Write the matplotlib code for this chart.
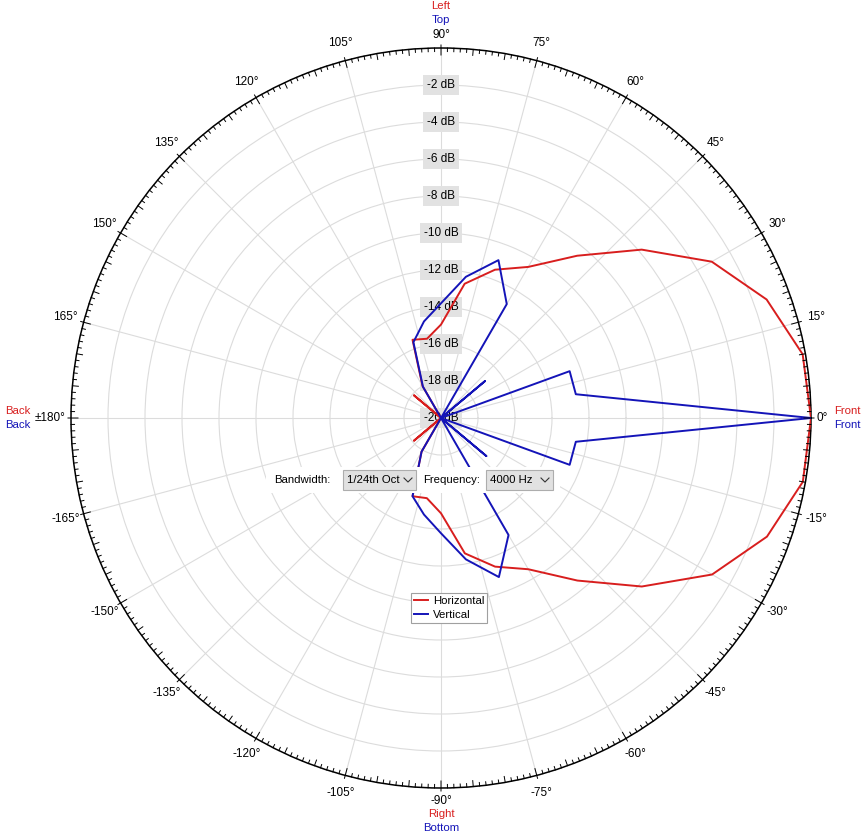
import numpy as np
import matplotlib
matplotlib.use("Agg")
import matplotlib.pyplot as plt
from matplotlib.patches import Rectangle
from matplotlib.lines import Line2D

plt.rcParams['font.family'] = ['Liberation Sans', 'DejaVu Sans']

W, H = 863, 838

# измерения каждые 10 градусов (0 = фронт, против часовой)
angles = list(range(0, 360, 10))
horizontal = [0.0, -0.15, -1.27, -3.1, -5.84, -8.55, -10.57, -11.47, -12.63, -14.95,
              -15.65, -15.5, -18.0, -20.0, -18.1, -20.0, -20.0, -20.0, -20.0, -20.0,
              -20.0, -20.0, -18.1, -20.0, -17.9, -15.5, -15.6, -14.85, -12.57, -11.45,
              -10.56, -8.53, -5.83, -3.08, -1.25, -0.14]
vertical = [0.0, -12.6, -12.6, -20.0, -16.9, -20.0, -12.89, -10.92, -12.25, -13.8,
            -14.7, -15.64, -18.05, -20.0, -20.0, -20.0, -20.0, -20.0, -20.0, -20.0,
            -20.0, -20.0, -20.0, -20.0, -17.9, -15.5, -14.7, -13.77, -12.24, -10.85,
            -12.7, -20.0, -16.8, -20.0, -12.6, -12.6]

db_rings = [-2, -4, -6, -8, -10, -12, -14, -16, -18, -20]
theta_labels = {0: '0°', 15: '15°', 30: '30°', 45: '45°', 60: '60°', 75: '75°', 90: '90°',
                105: '105°', 120: '120°', 135: '135°', 150: '150°', 165: '165°', 180: '±180°',
                195: '-165°', 210: '-150°', 225: '-135°', 240: '-120°', 255: '-105°',
                270: '-90°', 285: '-75°', 300: '-60°', 315: '-45°', 330: '-30°', 345: '-15°'}

RED = '#d81e1e'
BLUE = '#1414b8'
fs = 8.2


def px(x, y):
    return x / W, 1 - y / H


fig = plt.figure(figsize=(W / 100, H / 100), dpi=100)
cx, cy, R = 441, 418, 370
ax = fig.add_axes([(cx - R) / W, (H - cy - R) / H, 2 * R / W, 2 * R / H], projection='polar')
ax.set_ylim(-20, 0)
ax.set_axisbelow(True)
ax.set_xticks(np.deg2rad(np.arange(0, 360, 15)))
ax.set_xticklabels([])
ax.set_yticks(db_rings[:-1])
ax.set_yticklabels([])
ax.tick_params(axis='x', length=0)
ax.grid(color='#dcdcdc', lw=0.8)
ax.spines['polar'].set_color('black')
ax.spines['polar'].set_linewidth(1.1)

db_per_px = 20 / R

# шкала делений по окружности
tt, rr = [], []
for d in range(360):
    if d % 15 == 0:
        r0, r1 = -7 * db_per_px, 3 * db_per_px
    elif d % 5 == 0:
        r0, r1 = -6 * db_per_px, 0
    else:
        r0, r1 = -3.5 * db_per_px, 0
    t = np.deg2rad(d)
    tt += [t, t, np.nan]
    rr += [r0, r1, np.nan]
ax.plot(tt, rr, color='black', lw=0.7, clip_on=False, zorder=4)

# подписи углов
for d, lab in theta_labels.items():
    if d == 0:
        off = 11
    elif d in (90, 270):
        off = 13
    elif d == 180:
        off = 21
    else:
        off = 18.5
    ax.text(np.deg2rad(d), off * db_per_px, lab, ha='center', va='center', fontsize=fs + 0.3,
            clip_on=False)

# подписи дБ
for r in db_rings:
    ax.text(np.pi / 2, r, f'{r} dB', ha='center', va='center', fontsize=fs + 0.3, zorder=2,
            bbox=dict(boxstyle='square,pad=0.3', fc='#e2e2e2', ec='none'))

th = np.deg2rad(angles + [angles[0]])
ax.plot(th, horizontal + [horizontal[0]], color=RED, lw=1.4, zorder=3, label='Horizontal')
ax.plot(th, vertical + [vertical[0]], color=BLUE, lw=1.4, zorder=3, label='Vertical')

# надписи сторон
fig.text(*px(441, 6), 'Left', color=RED, ha='center', va='center', fontsize=fs)
fig.text(*px(441, 20), 'Top', color=BLUE, ha='center', va='center', fontsize=fs)
fig.text(*px(441, 814), 'Right', color=RED, ha='center', va='center', fontsize=fs)
fig.text(*px(441, 828), 'Bottom', color=BLUE, ha='center', va='center', fontsize=fs)
fig.text(*px(5, 411), 'Back', color=RED, ha='left', va='center', fontsize=fs)
fig.text(*px(5, 425), 'Back', color=BLUE, ha='left', va='center', fontsize=fs)
fig.text(*px(834, 411), 'Front', color=RED, ha='left', va='center', fontsize=fs)
fig.text(*px(834, 425), 'Front', color=BLUE, ha='left', va='center', fontsize=fs)


# панель с выпадающими списками
def rect(x0, y0, x1, y1, **kw):
    fig.add_artist(Rectangle(px(x0, y1), (x1 - x0) / W, (y1 - y0) / H,
                             transform=fig.transFigure, **kw))


def chevron(x, y):
    xs = [x - 4, x, x + 4]
    ys = [y - 2, y + 2, y - 2]
    fig.add_artist(Line2D([v / W for v in xs], [1 - v / H for v in ys], color='#333333',
                          lw=0.8, transform=fig.transFigure, zorder=7))


rect(266, 467, 560, 493, fc='white', ec='none', zorder=5)
rect(343, 470, 416, 490, fc='#e1e1e1', ec='#adadad', lw=0.8, zorder=6)
rect(486, 470, 553, 490, fc='#e1e1e1', ec='#adadad', lw=0.8, zorder=6)
fig.text(*px(274, 480), 'Bandwidth:', ha='left', va='center', fontsize=fs, zorder=7)
fig.text(*px(347, 480), '1/24th Oct', ha='left', va='center', fontsize=fs, zorder=7)
fig.text(*px(423, 480), 'Frequency:', ha='left', va='center', fontsize=fs, zorder=7)
fig.text(*px(490, 480), '4000 Hz', ha='left', va='center', fontsize=fs, zorder=7)
chevron(408, 480)
chevron(545, 480)

leg = ax.legend(loc='upper left', bbox_to_anchor=px(411, 593), bbox_transform=fig.transFigure,
                fancybox=False, edgecolor='#a0a0a0', fontsize=fs, borderpad=0.3,
                handlelength=1.2, handletextpad=0.4, labelspacing=0.3, borderaxespad=0,
                framealpha=1)
leg.get_frame().set_linewidth(0.8)

fig.savefig('out.png', dpi=100)
